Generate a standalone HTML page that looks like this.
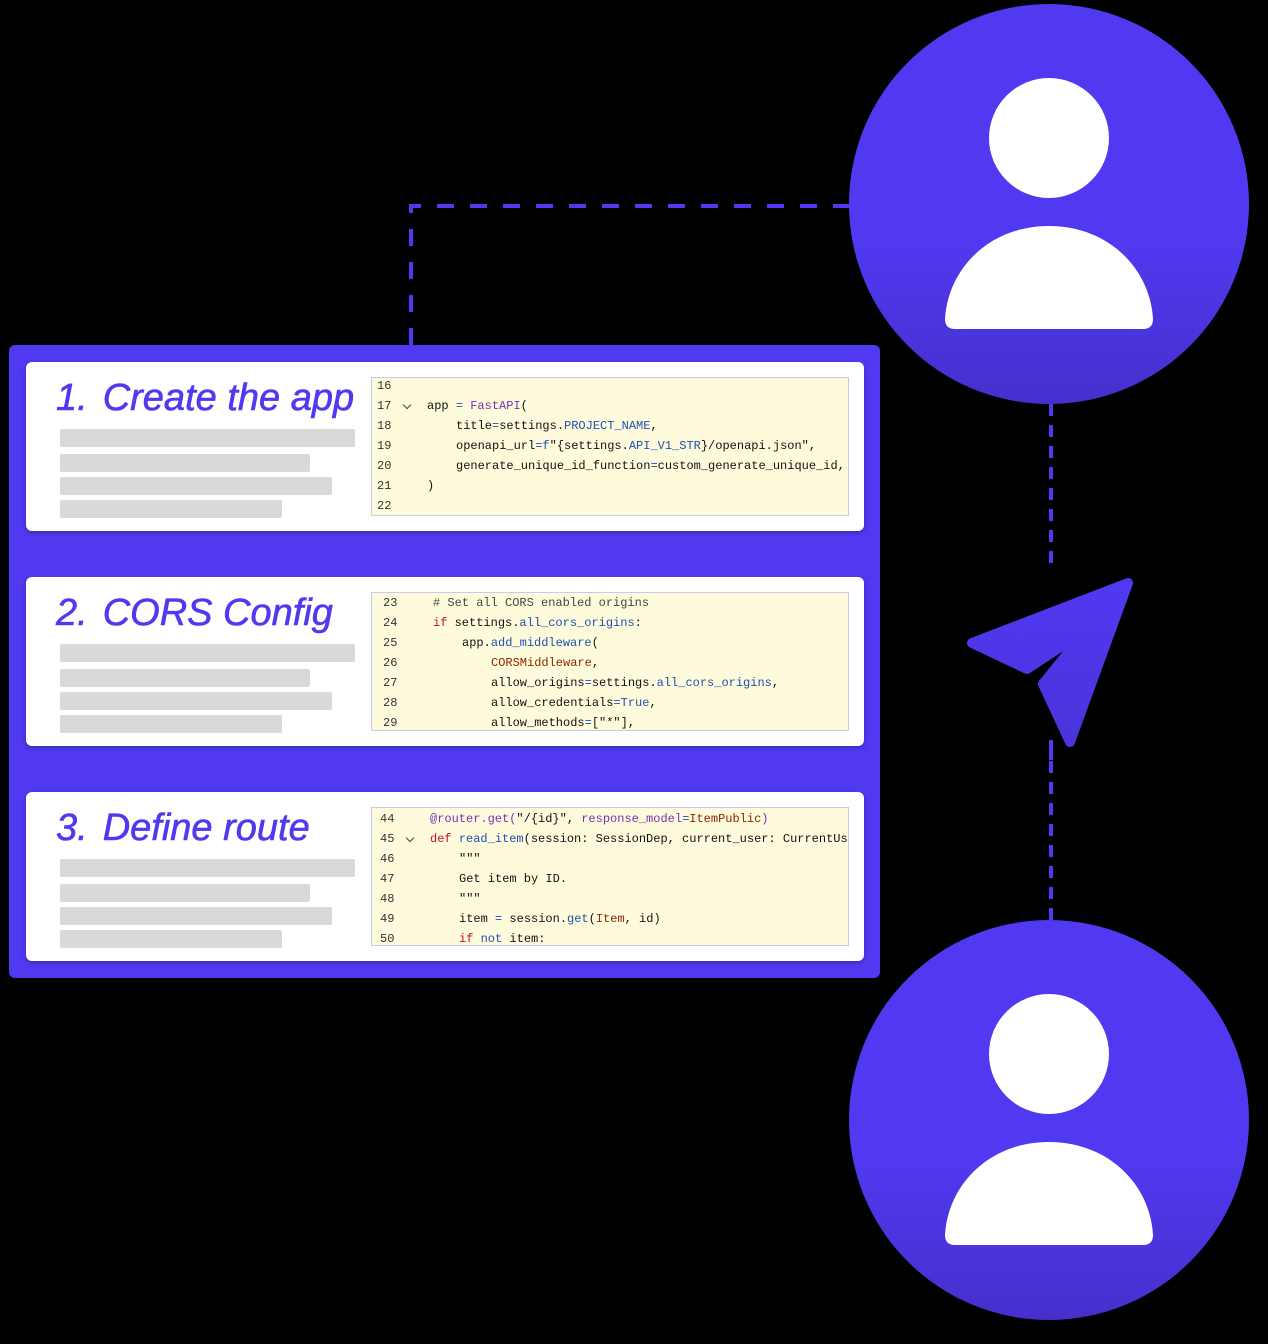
<!DOCTYPE html>
<html><head><meta charset="utf-8"><style>
body{margin:0;background:#000;width:1268px;height:1344px;position:relative;overflow:hidden;font-family:"Liberation Sans",sans-serif}
.panel{position:absolute;left:9px;top:345px;width:871px;height:633px;background:#5039f0;border-radius:6px}
.card{position:absolute;left:26px;width:838px;height:169px;background:#fff;border-radius:6px;box-shadow:0 2px 4px rgba(0,0,0,.25)}
.title{position:absolute;left:30px;top:15px;font-size:38px;font-style:italic;color:#5039f0;white-space:pre;letter-spacing:0;-webkit-text-stroke:0.6px #5039f0}
.title span{margin-left:15px}
.bar{position:absolute;left:34px;height:18px;background:#d9d9d9;border-radius:2px}
.code{position:absolute;left:345px;top:15px;width:476px;height:137px;background:#fefbdc;border:1.5px solid #c9c9ee;overflow:hidden;font-family:"Liberation Mono",monospace;font-size:12px;color:#111}
.l{position:absolute;white-space:pre;line-height:14px}
.n{color:#333}
.p{color:#7a2fb5}.b{color:#1f4fb0}.r{color:#c8102e}.o{color:#8b2500}.g{color:#444}
.chev{position:absolute;width:5px;height:5px;border-right:1.2px solid #444;border-bottom:1.2px solid #444;transform:rotate(45deg)}
</style></head><body>
<svg width="1268" height="1344" style="position:absolute;left:0;top:0">
<defs><linearGradient id="cg" x1="0" y1="0" x2="0" y2="1"><stop offset="0.6" stop-color="#5039f0"/><stop offset="1" stop-color="#4530cc"/></linearGradient>
<linearGradient id="pg" x1="0" y1="0" x2="0" y2="1"><stop offset="0" stop-color="#5039f0"/><stop offset="1" stop-color="#4a34dc"/></linearGradient></defs>
<path d="M411,345 V206 H850" fill="none" stroke="#5039f0" stroke-width="4" stroke-dasharray="17,16"/>
<path d="M1051,404 V920" fill="none" stroke="#5039f0" stroke-width="4" stroke-dasharray="12,9"/>
<rect x="960" y="570" width="180" height="180" fill="#000"/>
<path d="M1051,740 V760" stroke="#5039f0" stroke-width="4"/>
<circle cx="1049" cy="204" r="200" fill="url(#cg)"/>
<circle cx="1049" cy="1120" r="200" fill="url(#cg)"/>
<circle cx="1049" cy="138" r="60" fill="#fff"/>
<path d="M955,329 Q945,329 945,319 C948,268 990,226 1049,226 C1108,226 1150,268 1153,319 Q1153,329 1143,329 Z" fill="#fff"/>
<circle cx="1049" cy="1054" r="60" fill="#fff"/>
<path d="M955,1245 Q945,1245 945,1235 C948,1184 990,1142 1049,1142 C1108,1142 1150,1184 1153,1235 Q1153,1245 1143,1245 Z" fill="#fff"/>
<path d="M1128,583 L972,643 L1027,669 L1068,642 L1072,648 L1043,684 L1070,742 Z" fill="url(#pg)" stroke="url(#pg)" stroke-width="10" stroke-linejoin="round"/>
</svg>
<div class="panel"></div>

<div class="card" style="top:362px">
<div class="title">1.<span>Create the app</span></div>
<div class="bar" style="top:67px;width:295px"></div><div class="bar" style="top:92px;width:250px"></div><div class="bar" style="top:115px;width:272px"></div><div class="bar" style="top:138px;width:222px"></div>
<div class="code">
<div class="l n" style="left:5px;top:1px">16</div>
<div class="l n" style="left:5px;top:21px">17</div><div class="chev" style="left:32px;top:24px"></div>
<div class="l" style="left:55px;top:21px">app <span class="b">=</span> <span class="p">FastAPI</span>(</div>
<div class="l n" style="left:5px;top:41px">18</div>
<div class="l" style="left:84px;top:41px">title<span class="b">=</span>settings.<span class="b">PROJECT_NAME</span>,</div>
<div class="l n" style="left:5px;top:61px">19</div>
<div class="l" style="left:84px;top:61px">openapi_url<span class="b">=f</span>"{settings.<span class="b">API_V1_STR</span>}/openapi.json",</div>
<div class="l n" style="left:5px;top:81px">20</div>
<div class="l" style="left:84px;top:81px">generate_unique_id_function<span class="b">=</span>custom_generate_unique_id,</div>
<div class="l n" style="left:5px;top:101px">21</div>
<div class="l" style="left:55px;top:101px">)</div>
<div class="l n" style="left:5px;top:121px">22</div>
</div></div>

<div class="card" style="top:577px">
<div class="title">2.<span>CORS Config</span></div>
<div class="bar" style="top:67px;width:295px"></div><div class="bar" style="top:92px;width:250px"></div><div class="bar" style="top:115px;width:272px"></div><div class="bar" style="top:138px;width:222px"></div>
<div class="code">
<div class="l n" style="left:11px;top:3px">23</div><div class="l g" style="left:61px;top:3px"># Set all CORS enabled origins</div>
<div class="l n" style="left:11px;top:23px">24</div><div class="l" style="left:61px;top:23px"><span class="r">if</span> settings.<span class="b">all_cors_origins</span>:</div>
<div class="l n" style="left:11px;top:43px">25</div><div class="l" style="left:90px;top:43px">app.<span class="b">add_middleware</span>(</div>
<div class="l n" style="left:11px;top:63px">26</div><div class="l o" style="left:119px;top:63px">CORSMiddleware<span style="color:#111">,</span></div>
<div class="l n" style="left:11px;top:83px">27</div><div class="l" style="left:119px;top:83px">allow_origins<span class="b">=</span>settings.<span class="b">all_cors_origins</span>,</div>
<div class="l n" style="left:11px;top:103px">28</div><div class="l" style="left:119px;top:103px">allow_credentials<span class="b">=True</span>,</div>
<div class="l n" style="left:11px;top:123px">29</div><div class="l" style="left:119px;top:123px">allow_methods<span class="b">=</span>["*"],</div>
</div></div>

<div class="card" style="top:792px">
<div class="title">3.<span>Define route</span></div>
<div class="bar" style="top:67px;width:295px"></div><div class="bar" style="top:92px;width:250px"></div><div class="bar" style="top:115px;width:272px"></div><div class="bar" style="top:138px;width:222px"></div>
<div class="code">
<div class="l n" style="left:8px;top:4px">44</div><div class="l p" style="left:58px;top:4px">@router.get(<span style="color:#111">"/{id}", </span>response_model<span class="b">=</span><span class="o">ItemPublic</span>)</div>
<div class="l n" style="left:8px;top:24px">45</div><div class="chev" style="left:35px;top:27px"></div><div class="l" style="left:58px;top:24px"><span class="r">def</span> <span class="b">read_item</span>(session: SessionDep, current_user: CurrentUser</div>
<div class="l n" style="left:8px;top:44px">46</div><div class="l" style="left:87px;top:44px">"""</div>
<div class="l n" style="left:8px;top:64px">47</div><div class="l" style="left:87px;top:64px">Get item by ID.</div>
<div class="l n" style="left:8px;top:84px">48</div><div class="l" style="left:87px;top:84px">"""</div>
<div class="l n" style="left:8px;top:104px">49</div><div class="l" style="left:87px;top:104px">item <span class="b">=</span> session.<span class="b">get</span>(<span class="o">Item</span>, id)</div>
<div class="l n" style="left:8px;top:124px">50</div><div class="l" style="left:87px;top:124px"><span class="r">if</span> <span class="b">not</span> item:</div>
</div></div>
</body></html>
